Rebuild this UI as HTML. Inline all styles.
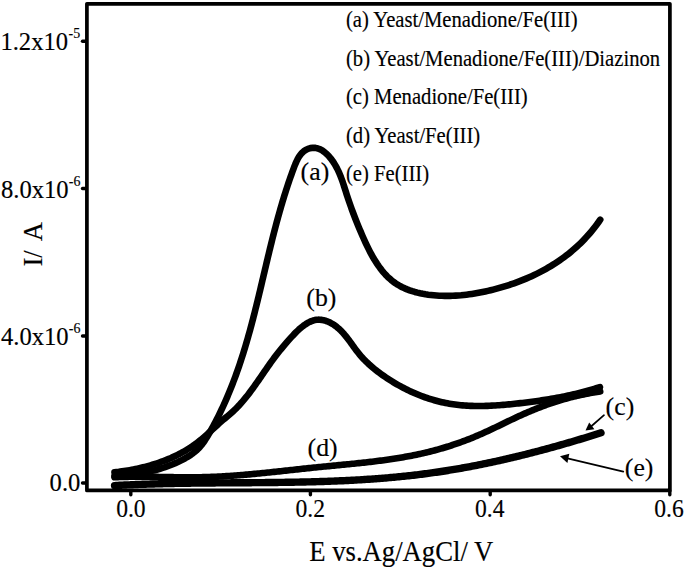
<!DOCTYPE html>
<html><head><meta charset="utf-8"><style>
html,body{margin:0;padding:0;background:#fff;width:685px;height:567px;overflow:hidden}
svg{display:block}
text{font-family:"Liberation Serif",serif;fill:#000;stroke:#000;stroke-width:0.15px}
</style></head><body>
<svg width="685" height="567" viewBox="0 0 685 567">
<rect x="0" y="0" width="685" height="567" fill="#fff"/>
<!-- frame -->
<rect x="86.9" y="3.85" width="583" height="486.6" fill="none" stroke="#000" stroke-width="3.7" stroke-linejoin="round"/>
<!-- y ticks -->
<g stroke="#000" stroke-width="3.4" stroke-linecap="round">
<line x1="82.5" y1="41.2" x2="86" y2="41.2"/>
<line x1="82.5" y1="188.5" x2="86" y2="188.5"/>
<line x1="82.5" y1="336" x2="86" y2="336"/>
<line x1="82.5" y1="483" x2="86" y2="483"/>
<!-- x ticks -->
<line x1="130.8" y1="491" x2="130.8" y2="494.8"/>
<line x1="310.4" y1="491" x2="310.4" y2="494.8"/>
<line x1="490.2" y1="491" x2="490.2" y2="494.8"/>
<line x1="669.8" y1="491" x2="669.8" y2="494.8"/>
</g>
<!-- curves -->
<g fill="none" stroke="#000" stroke-width="6.6" stroke-linecap="round" stroke-linejoin="round">
<path d="M114.49,475.98 L117.22,475.85 L119.95,475.69 L122.67,475.49 L125.38,475.26 L128.09,475.00 L130.80,474.70 L133.49,474.36 L136.18,473.99 L138.87,473.57 L141.54,473.12 L144.21,472.63 L146.86,472.09 L149.51,471.52 L152.15,470.89 L154.77,470.23 L157.39,469.51 L159.99,468.75 L162.58,467.94 L165.16,467.08 L167.72,466.17 L170.27,465.21 L172.80,464.19 L175.32,463.12 L177.83,462.00 L180.31,460.82 L182.78,459.58 L185.20,458.27 L187.58,456.89 L189.90,455.43 L192.14,453.88 L194.29,452.24 L196.34,450.50 L198.28,448.65 L200.10,446.70 L201.80,444.64 L203.41,442.51 L204.93,440.30 L206.39,438.03 L207.79,435.72 L209.16,433.38 L210.50,431.02 L211.82,428.65 L213.13,426.27 L214.41,423.87 L215.67,421.47 L216.92,419.05 L218.15,416.62 L219.35,414.18 L220.54,411.73 L221.71,409.27 L222.87,406.80 L224.00,404.32 L225.12,401.83 L226.22,399.34 L227.30,396.83 L228.36,394.32 L229.41,391.80 L230.44,389.28 L231.45,386.75 L232.45,384.21 L233.43,381.66 L234.40,379.11 L235.35,376.56 L236.28,374.00 L237.20,371.44 L238.10,368.87 L238.99,366.30 L239.86,363.72 L240.72,361.15 L241.56,358.57 L242.39,355.98 L243.21,353.40 L244.02,350.81 L244.81,348.22 L245.59,345.62 L246.36,343.03 L247.12,340.43 L247.86,337.83 L248.60,335.22 L249.33,332.62 L250.05,330.01 L250.76,327.40 L251.46,324.78 L252.15,322.17 L252.84,319.55 L253.52,316.93 L254.19,314.31 L254.85,311.69 L255.51,309.06 L256.17,306.44 L256.82,303.81 L257.46,301.18 L258.10,298.55 L258.74,295.92 L259.37,293.29 L260.00,290.65 L260.63,288.01 L261.25,285.38 L261.88,282.74 L262.50,280.10 L263.13,277.46 L263.75,274.82 L264.37,272.18 L264.99,269.54 L265.62,266.89 L266.24,264.25 L266.87,261.61 L267.50,258.96 L268.13,256.32 L268.77,253.67 L269.40,251.03 L270.05,248.38 L270.69,245.74 L271.35,243.09 L272.00,240.45 L272.67,237.80 L273.34,235.16 L274.01,232.51 L274.70,229.87 L275.39,227.22 L276.08,224.58 L276.79,221.94 L277.50,219.29 L278.23,216.65 L278.96,214.01 L279.71,211.37 L280.46,208.73 L281.23,206.09 L282.00,203.46 L282.79,200.82 L283.59,198.18 L284.40,195.55 L285.23,192.92 L286.07,190.29 L286.92,187.66 L287.79,185.03 L288.67,182.40 L289.57,179.77 L290.48,177.15 L291.41,174.53 L292.35,171.91 L293.31,169.29 L294.30,166.68 L295.32,164.11 L296.41,161.60 L297.59,159.21 L298.89,156.94 L300.32,154.85 L301.92,152.96 L303.70,151.31 L305.68,149.94 L307.91,148.86 L310.34,148.13 L312.88,147.79 L315.42,147.90 L317.90,148.46 L320.30,149.41 L322.61,150.73 L324.83,152.35 L326.95,154.23 L328.96,156.32 L330.84,158.57 L332.59,160.93 L334.21,163.36 L335.68,165.83 L337.04,168.33 L338.28,170.86 L339.43,173.42 L340.49,176.00 L341.47,178.59 L342.40,181.18 L343.28,183.79 L344.13,186.39 L344.96,188.99 L345.78,191.57 L346.60,194.14 L347.44,196.69 L348.28,199.23 L349.14,201.75 L350.01,204.26 L350.90,206.76 L351.80,209.26 L352.72,211.75 L353.65,214.23 L354.60,216.71 L355.56,219.19 L356.55,221.67 L357.55,224.16 L358.57,226.65 L359.61,229.15 L360.68,231.66 L361.76,234.18 L362.86,236.71 L363.99,239.25 L365.15,241.79 L366.33,244.33 L367.55,246.87 L368.80,249.39 L370.08,251.89 L371.41,254.37 L372.78,256.81 L374.19,259.22 L375.65,261.59 L377.15,263.91 L378.71,266.18 L380.32,268.39 L381.99,270.53 L383.72,272.60 L385.51,274.60 L387.36,276.52 L389.29,278.35 L391.28,280.08 L393.34,281.72 L395.47,283.26 L397.68,284.69 L399.97,286.01 L402.31,287.23 L404.72,288.35 L407.18,289.38 L409.69,290.32 L412.25,291.18 L414.85,291.95 L417.48,292.63 L420.15,293.25 L422.84,293.78 L425.55,294.25 L428.27,294.65 L431.01,294.99 L433.75,295.27 L436.49,295.50 L439.23,295.67 L441.96,295.78 L444.70,295.85 L447.43,295.86 L450.16,295.83 L452.89,295.75 L455.61,295.62 L458.33,295.44 L461.05,295.23 L463.76,294.96 L466.47,294.66 L469.17,294.31 L471.87,293.93 L474.56,293.51 L477.25,293.05 L479.93,292.55 L482.60,292.02 L485.27,291.46 L487.93,290.86 L490.58,290.24 L493.23,289.58 L495.87,288.90 L498.50,288.18 L501.12,287.44 L503.73,286.67 L506.34,285.87 L508.93,285.04 L511.51,284.18 L514.08,283.29 L516.63,282.36 L519.17,281.41 L521.70,280.43 L524.22,279.41 L526.72,278.36 L529.20,277.28 L531.67,276.17 L534.12,275.03 L536.55,273.85 L538.97,272.64 L541.37,271.40 L543.75,270.12 L546.11,268.81 L548.45,267.46 L550.77,266.08 L553.06,264.67 L555.34,263.22 L557.59,261.74 L559.82,260.22 L562.03,258.66 L564.21,257.07 L566.36,255.44 L568.50,253.78 L570.60,252.08 L572.68,250.34 L574.73,248.56 L576.75,246.75 L578.75,244.90 L580.71,243.01 L582.65,241.08 L584.55,239.12 L586.43,237.11 L588.27,235.07 L590.08,232.99 L591.86,230.86 L593.61,228.70 L595.32,226.50 L597.00,224.25 L598.64,221.97 L600.24,219.64"/>
<path d="M114.48,472.37 L116.38,472.14 L118.29,471.90 L120.20,471.64 L122.11,471.37 L124.02,471.09 L125.93,470.78 L127.84,470.47 L129.75,470.13 L131.66,469.78 L133.56,469.41 L135.46,469.03 L137.36,468.63 L139.26,468.21 L141.15,467.78 L143.04,467.32 L144.92,466.85 L146.80,466.36 L148.68,465.85 L150.54,465.32 L152.40,464.77 L154.26,464.20 L156.10,463.62 L157.94,463.01 L159.77,462.38 L161.59,461.73 L163.41,461.06 L165.21,460.37 L167.00,459.65 L168.79,458.92 L170.56,458.16 L172.32,457.38 L174.07,456.58 L175.80,455.75 L177.53,454.90 L179.24,454.03 L180.94,453.13 L182.62,452.21 L184.29,451.27 L185.95,450.30 L187.59,449.30 L189.21,448.28 L190.82,447.24 L192.41,446.16 L193.99,445.07 L195.54,443.94 L197.08,442.79 L198.60,441.62 L200.11,440.41 L201.59,439.19 L203.07,437.94 L204.53,436.67 L205.98,435.39 L207.41,434.10 L208.85,432.80 L210.27,431.49 L211.70,430.18 L213.12,428.86 L214.53,427.55 L215.95,426.24 L217.38,424.94 L218.80,423.65 L220.24,422.37 L221.68,421.10 L223.13,419.85 L224.59,418.62 L226.05,417.40 L227.51,416.18 L228.96,414.96 L230.40,413.73 L231.82,412.48 L233.22,411.21 L234.60,409.91 L235.95,408.59 L237.27,407.24 L238.58,405.86 L239.87,404.47 L241.14,403.05 L242.40,401.62 L243.64,400.16 L244.86,398.69 L246.07,397.19 L247.27,395.69 L248.45,394.16 L249.63,392.63 L250.79,391.08 L251.94,389.52 L253.08,387.95 L254.22,386.37 L255.35,384.79 L256.47,383.20 L257.59,381.60 L258.70,380.00 L259.81,378.39 L260.91,376.79 L262.02,375.18 L263.12,373.57 L264.22,371.97 L265.32,370.37 L266.43,368.77 L267.53,367.18 L268.64,365.59 L269.75,364.02 L270.87,362.45 L271.99,360.89 L273.12,359.34 L274.26,357.80 L275.40,356.28 L276.56,354.77 L277.72,353.27 L278.90,351.78 L280.09,350.29 L281.29,348.81 L282.51,347.33 L283.75,345.86 L285.01,344.38 L286.28,342.89 L287.58,341.40 L288.90,339.91 L290.24,338.40 L291.61,336.89 L293.00,335.39 L294.42,333.90 L295.86,332.43 L297.32,331.00 L298.80,329.60 L300.31,328.27 L301.84,326.99 L303.39,325.78 L304.96,324.65 L306.55,323.62 L308.17,322.68 L309.80,321.85 L311.45,321.14 L313.13,320.55 L314.82,320.11 L316.53,319.81 L318.26,319.67 L320.01,319.69 L321.77,319.87 L323.53,320.20 L325.30,320.67 L327.06,321.27 L328.80,322.00 L330.52,322.84 L332.21,323.78 L333.86,324.82 L335.47,325.95 L337.03,327.15 L338.54,328.43 L339.99,329.76 L341.39,331.15 L342.74,332.58 L344.05,334.06 L345.33,335.58 L346.57,337.13 L347.79,338.70 L348.99,340.30 L350.17,341.90 L351.34,343.52 L352.51,345.14 L353.67,346.75 L354.84,348.35 L356.02,349.94 L357.22,351.51 L358.43,353.05 L359.67,354.56 L360.93,356.03 L362.21,357.47 L363.52,358.89 L364.85,360.27 L366.20,361.63 L367.57,362.95 L368.96,364.26 L370.37,365.53 L371.80,366.79 L373.25,368.02 L374.72,369.22 L376.21,370.41 L377.71,371.58 L379.23,372.73 L380.77,373.86 L382.32,374.97 L383.89,376.07 L385.47,377.15 L387.07,378.21 L388.68,379.27 L390.30,380.30 L391.93,381.33 L393.58,382.33 L395.24,383.32 L396.92,384.29 L398.60,385.25 L400.30,386.19 L402.01,387.11 L403.73,388.01 L405.46,388.89 L407.20,389.76 L408.94,390.60 L410.70,391.43 L412.47,392.23 L414.25,393.02 L416.04,393.79 L417.83,394.53 L419.64,395.25 L421.45,395.96 L423.27,396.64 L425.09,397.30 L426.93,397.93 L428.77,398.54 L430.61,399.13 L432.47,399.70 L434.32,400.24 L436.19,400.76 L438.06,401.25 L439.93,401.72 L441.81,402.17 L443.69,402.58 L445.58,402.98 L447.47,403.34 L449.36,403.68 L451.26,403.99 L453.15,404.28 L455.06,404.55 L456.96,404.79 L458.87,405.00 L460.78,405.19 L462.69,405.37 L464.61,405.51 L466.52,405.64 L468.44,405.75 L470.36,405.84 L472.29,405.91 L474.21,405.96 L476.14,405.99 L478.06,406.00 L479.99,406.00 L481.92,405.98 L483.85,405.95 L485.78,405.90 L487.71,405.84 L489.65,405.76 L491.58,405.67 L493.51,405.56 L495.44,405.45 L497.38,405.32 L499.31,405.18 L501.24,405.04 L503.18,404.88 L505.11,404.71 L507.04,404.54 L508.97,404.36 L510.90,404.17 L512.83,403.97 L514.75,403.77 L516.68,403.56 L518.60,403.35 L520.53,403.13 L522.45,402.91 L524.37,402.68 L526.29,402.45 L528.20,402.21 L530.12,401.97 L532.03,401.72 L533.95,401.47 L535.86,401.21 L537.77,400.94 L539.68,400.66 L541.58,400.38 L543.49,400.09 L545.39,399.80 L547.29,399.49 L549.19,399.18 L551.09,398.86 L552.99,398.54 L554.88,398.20 L556.78,397.85 L558.67,397.50 L560.56,397.14 L562.45,396.77 L564.34,396.39 L566.23,395.99 L568.11,395.59 L570.00,395.18 L571.88,394.76 L573.76,394.33 L575.64,393.89 L577.52,393.43 L579.39,392.97 L581.27,392.49 L583.14,392.01 L585.01,391.51 L586.88,391.00 L588.75,390.47 L590.62,389.94 L592.48,389.39 L594.35,388.83 L596.21,388.25 L598.07,387.67 L599.93,387.06"/>
<path d="M114.52,477.29 L116.17,477.21 L117.83,477.13 L119.49,477.07 L121.14,477.01 L122.80,476.95 L124.46,476.91 L126.12,476.87 L127.79,476.83 L129.45,476.80 L131.11,476.78 L132.78,476.76 L134.44,476.75 L136.11,476.74 L137.77,476.73 L139.44,476.73 L141.11,476.74 L142.78,476.74 L144.45,476.75 L146.12,476.77 L147.79,476.78 L149.46,476.80 L151.13,476.82 L152.80,476.84 L154.47,476.87 L156.15,476.89 L157.82,476.92 L159.49,476.95 L161.16,476.98 L162.84,477.01 L164.51,477.03 L166.18,477.06 L167.86,477.09 L169.53,477.12 L171.20,477.15 L172.88,477.17 L174.55,477.20 L176.22,477.22 L177.90,477.24 L179.57,477.26 L181.24,477.28 L182.92,477.30 L184.59,477.31 L186.26,477.32 L187.93,477.32 L189.60,477.32 L191.27,477.32 L192.94,477.31 L194.61,477.30 L196.28,477.29 L197.95,477.27 L199.62,477.24 L201.28,477.21 L202.95,477.17 L204.62,477.13 L206.28,477.09 L207.95,477.03 L209.61,476.98 L211.27,476.91 L212.94,476.85 L214.60,476.78 L216.26,476.70 L217.92,476.62 L219.58,476.53 L221.24,476.44 L222.90,476.35 L224.56,476.25 L226.22,476.15 L227.88,476.04 L229.54,475.93 L231.20,475.82 L232.85,475.70 L234.51,475.58 L236.17,475.46 L237.83,475.33 L239.48,475.20 L241.14,475.07 L242.79,474.93 L244.45,474.79 L246.10,474.65 L247.76,474.50 L249.41,474.35 L251.07,474.20 L252.72,474.05 L254.38,473.89 L256.03,473.74 L257.68,473.58 L259.34,473.41 L260.99,473.25 L262.65,473.08 L264.30,472.92 L265.95,472.75 L267.61,472.58 L269.26,472.41 L270.91,472.23 L272.57,472.06 L274.22,471.88 L275.88,471.71 L277.53,471.53 L279.18,471.35 L280.84,471.17 L282.49,470.99 L284.15,470.81 L285.80,470.63 L287.46,470.45 L289.11,470.27 L290.77,470.09 L292.42,469.91 L294.08,469.72 L295.73,469.54 L297.39,469.36 L299.05,469.18 L300.70,469.00 L302.36,468.82 L304.02,468.64 L305.67,468.47 L307.33,468.29 L308.99,468.11 L310.65,467.94 L312.31,467.76 L313.97,467.59 L315.63,467.42 L317.29,467.25 L318.95,467.08 L320.61,466.91 L322.27,466.75 L323.94,466.58 L325.60,466.42 L327.26,466.26 L328.93,466.10 L330.59,465.94 L332.25,465.78 L333.92,465.61 L335.58,465.45 L337.25,465.29 L338.91,465.13 L340.57,464.97 L342.24,464.81 L343.90,464.65 L345.57,464.49 L347.23,464.32 L348.90,464.16 L350.56,463.99 L352.22,463.82 L353.89,463.66 L355.55,463.49 L357.21,463.31 L358.87,463.14 L360.54,462.96 L362.20,462.78 L363.86,462.60 L365.52,462.42 L367.18,462.23 L368.84,462.04 L370.50,461.85 L372.15,461.66 L373.81,461.46 L375.47,461.26 L377.12,461.05 L378.78,460.84 L380.43,460.63 L382.09,460.41 L383.74,460.19 L385.39,459.96 L387.04,459.73 L388.69,459.50 L390.34,459.26 L391.99,459.02 L393.63,458.77 L395.28,458.51 L396.92,458.25 L398.57,457.99 L400.21,457.72 L401.85,457.44 L403.49,457.16 L405.12,456.87 L406.76,456.57 L408.39,456.27 L410.03,455.96 L411.66,455.65 L413.29,455.33 L414.92,455.00 L416.54,454.66 L418.17,454.32 L419.79,453.97 L421.41,453.61 L423.03,453.24 L424.65,452.87 L426.27,452.49 L427.88,452.10 L429.49,451.70 L431.11,451.29 L432.71,450.88 L434.32,450.46 L435.92,450.03 L437.53,449.59 L439.13,449.14 L440.73,448.68 L442.32,448.22 L443.91,447.75 L445.51,447.26 L447.09,446.78 L448.68,446.28 L450.26,445.77 L451.85,445.26 L453.42,444.74 L455.00,444.21 L456.57,443.67 L458.15,443.12 L459.71,442.56 L461.28,442.00 L462.84,441.43 L464.40,440.85 L465.96,440.26 L467.51,439.66 L469.07,439.06 L470.61,438.45 L472.16,437.82 L473.70,437.19 L475.24,436.56 L476.78,435.91 L478.31,435.25 L479.84,434.59 L481.36,433.92 L482.89,433.24 L484.41,432.56 L485.93,431.86 L487.44,431.17 L488.96,430.46 L490.47,429.76 L491.98,429.04 L493.49,428.33 L494.99,427.61 L496.50,426.89 L498.00,426.16 L499.51,425.44 L501.01,424.71 L502.51,423.98 L504.02,423.26 L505.52,422.53 L507.02,421.81 L508.53,421.08 L510.03,420.36 L511.54,419.64 L513.05,418.93 L514.55,418.22 L516.06,417.51 L517.58,416.81 L519.09,416.12 L520.60,415.43 L522.12,414.74 L523.64,414.06 L525.16,413.39 L526.69,412.73 L528.21,412.07 L529.74,411.42 L531.28,410.77 L532.81,410.13 L534.35,409.50 L535.89,408.88 L537.43,408.27 L538.97,407.66 L540.52,407.06 L542.07,406.47 L543.63,405.89 L545.18,405.31 L546.74,404.75 L548.31,404.19 L549.87,403.64 L551.44,403.10 L553.02,402.57 L554.60,402.06 L556.18,401.55 L557.76,401.05 L559.35,400.56 L560.94,400.08 L562.54,399.61 L564.14,399.15 L565.74,398.70 L567.35,398.26 L568.96,397.83 L570.57,397.41 L572.19,397.00 L573.81,396.60 L575.43,396.21 L577.06,395.83 L578.69,395.46 L580.33,395.10 L581.97,394.75 L583.61,394.41 L585.25,394.08 L586.90,393.75 L588.55,393.44 L590.21,393.13 L591.87,392.84 L593.53,392.55 L595.19,392.27 L596.86,392.00 L598.53,391.74 L600.20,391.49"/>
<path d="M114.56,485.57 L116.20,485.48 L117.84,485.39 L119.48,485.30 L121.11,485.22 L122.75,485.14 L124.39,485.06 L126.03,484.98 L127.67,484.90 L129.31,484.83 L130.95,484.75 L132.59,484.68 L134.23,484.62 L135.87,484.55 L137.51,484.48 L139.15,484.42 L140.79,484.36 L142.43,484.30 L144.07,484.24 L145.72,484.18 L147.36,484.13 L149.00,484.08 L150.64,484.03 L152.28,483.98 L153.93,483.93 L155.57,483.88 L157.21,483.83 L158.86,483.79 L160.50,483.75 L162.14,483.71 L163.79,483.67 L165.43,483.63 L167.07,483.59 L168.72,483.55 L170.36,483.52 L172.01,483.49 L173.65,483.45 L175.30,483.42 L176.94,483.39 L178.58,483.36 L180.23,483.34 L181.88,483.31 L183.52,483.28 L185.17,483.26 L186.81,483.23 L188.46,483.21 L190.10,483.19 L191.75,483.17 L193.39,483.14 L195.04,483.12 L196.69,483.10 L198.33,483.09 L199.98,483.07 L201.63,483.05 L203.27,483.03 L204.92,483.02 L206.57,483.00 L208.21,482.99 L209.86,482.97 L211.51,482.96 L213.15,482.95 L214.80,482.93 L216.45,482.92 L218.10,482.91 L219.74,482.90 L221.39,482.88 L223.04,482.87 L224.68,482.86 L226.33,482.85 L227.98,482.84 L229.63,482.83 L231.27,482.82 L232.92,482.81 L234.57,482.80 L236.22,482.78 L237.87,482.77 L239.51,482.76 L241.16,482.75 L242.81,482.74 L244.46,482.73 L246.10,482.72 L247.75,482.71 L249.40,482.70 L251.05,482.68 L252.69,482.67 L254.34,482.66 L255.99,482.65 L257.64,482.63 L259.28,482.62 L260.93,482.61 L262.58,482.59 L264.23,482.58 L265.87,482.56 L267.52,482.55 L269.17,482.53 L270.82,482.51 L272.46,482.49 L274.11,482.47 L275.76,482.46 L277.41,482.44 L279.05,482.41 L280.70,482.39 L282.35,482.37 L283.99,482.35 L285.64,482.32 L287.29,482.30 L288.93,482.27 L290.58,482.24 L292.23,482.22 L293.87,482.19 L295.52,482.16 L297.16,482.13 L298.81,482.09 L300.46,482.06 L302.10,482.02 L303.75,481.99 L305.39,481.95 L307.04,481.91 L308.68,481.87 L310.33,481.83 L311.98,481.79 L313.62,481.74 L315.26,481.70 L316.91,481.65 L318.55,481.60 L320.20,481.55 L321.84,481.50 L323.49,481.45 L325.13,481.39 L326.77,481.34 L328.42,481.28 L330.06,481.22 L331.71,481.16 L333.35,481.10 L334.99,481.03 L336.63,480.96 L338.28,480.89 L339.92,480.82 L341.56,480.75 L343.20,480.68 L344.85,480.60 L346.49,480.52 L348.13,480.44 L349.77,480.36 L351.41,480.27 L353.05,480.19 L354.69,480.10 L356.33,480.01 L357.97,479.91 L359.61,479.82 L361.25,479.72 L362.89,479.62 L364.53,479.52 L366.17,479.41 L367.81,479.30 L369.45,479.19 L371.09,479.08 L372.72,478.97 L374.36,478.85 L376.00,478.73 L377.64,478.61 L379.27,478.48 L380.91,478.35 L382.55,478.22 L384.18,478.09 L385.82,477.96 L387.46,477.82 L389.09,477.68 L390.73,477.53 L392.36,477.38 L394.00,477.23 L395.63,477.08 L397.26,476.93 L398.90,476.77 L400.53,476.60 L402.16,476.44 L403.80,476.27 L405.43,476.10 L407.06,475.93 L408.69,475.75 L410.32,475.57 L411.96,475.38 L413.59,475.20 L415.22,475.01 L416.85,474.81 L418.48,474.62 L420.11,474.42 L421.74,474.21 L423.36,474.01 L424.99,473.79 L426.62,473.58 L428.25,473.36 L429.88,473.14 L431.50,472.92 L433.13,472.69 L434.76,472.46 L436.38,472.22 L438.01,471.98 L439.63,471.74 L441.26,471.50 L442.88,471.25 L444.51,470.99 L446.13,470.74 L447.75,470.48 L449.38,470.22 L451.00,469.95 L452.62,469.68 L454.24,469.41 L455.86,469.14 L457.48,468.86 L459.10,468.58 L460.72,468.29 L462.34,468.00 L463.96,467.71 L465.58,467.42 L467.20,467.12 L468.81,466.82 L470.43,466.51 L472.05,466.21 L473.66,465.90 L475.28,465.59 L476.89,465.27 L478.51,464.95 L480.12,464.63 L481.74,464.30 L483.35,463.98 L484.96,463.65 L486.57,463.31 L488.19,462.98 L489.80,462.64 L491.41,462.29 L493.02,461.95 L494.63,461.60 L496.23,461.25 L497.84,460.90 L499.45,460.54 L501.06,460.18 L502.66,459.82 L504.27,459.46 L505.88,459.09 L507.48,458.72 L509.08,458.35 L510.69,457.97 L512.29,457.59 L513.89,457.21 L515.50,456.83 L517.10,456.44 L518.70,456.06 L520.30,455.67 L521.90,455.27 L523.50,454.88 L525.09,454.48 L526.69,454.08 L528.29,453.68 L529.89,453.27 L531.48,452.86 L533.08,452.45 L534.67,452.04 L536.26,451.63 L537.86,451.21 L539.45,450.79 L541.04,450.37 L542.63,449.94 L544.22,449.52 L545.81,449.09 L547.40,448.66 L548.99,448.22 L550.58,447.79 L552.17,447.35 L553.75,446.91 L555.34,446.47 L556.92,446.03 L558.51,445.58 L560.09,445.13 L561.67,444.68 L563.26,444.23 L564.84,443.78 L566.42,443.32 L568.00,442.86 L569.58,442.40 L571.15,441.94 L572.73,441.48 L574.31,441.01 L575.88,440.54 L577.46,440.07 L579.03,439.60 L580.61,439.13 L582.18,438.65 L583.75,438.18 L585.32,437.70 L586.90,437.22 L588.47,436.74 L590.03,436.25 L591.60,435.77 L593.17,435.28 L594.74,434.79 L596.30,434.30 L597.87,433.81 L599.43,433.31 L600.99,432.82" stroke-width="7.4"/>
</g>
<!-- arrows -->
<g stroke="#000" stroke-width="1.7" fill="none" stroke-linecap="round">
<line x1="604" y1="415.2" x2="591" y2="426.5"/>
<line x1="623.3" y1="471.6" x2="567.5" y2="458.3"/>
</g>
<g fill="#000">
<polygon points="585.5,430.6 589.2,422.4 594.4,429.2"/>
<polygon points="560,456.3 569.3,453.8 567.4,463"/>
</g>
<!-- x tick labels -->
<g font-size="23.6" text-anchor="middle">
<text transform="translate(130.9,517) scale(1,1.07)">0.0</text>
<text transform="translate(310.2,517) scale(1,1.07)">0.2</text>
<text transform="translate(489.7,517) scale(1,1.07)">0.4</text>
<text transform="translate(669,517) scale(1,1.07)">0.6</text>
</g>
<!-- y tick labels -->
<g font-size="24.6">
<text transform="translate(0.4,49.5) scale(1,1.04)">1.2x10</text>
<text transform="translate(68.6,37.6) scale(1,1.04)" font-size="14">-5</text>
<text transform="translate(1.0,197.5) scale(1,1.04)">8.0x10</text>
<text transform="translate(68.8,185.6) scale(1,1.04)" font-size="14">-6</text>
<text transform="translate(1.0,345) scale(1,1.04)">4.0x10</text>
<text transform="translate(68.8,333.1) scale(1,1.04)" font-size="14">-6</text>
<text transform="translate(49.6,490.5) scale(1,1.04)">0.0</text>
</g>
<!-- axis titles -->
<text transform="translate(309.2,560.6) scale(1,1.08)" font-size="26.7">E vs.Ag/AgCl/ V</text>
<text transform="translate(42,266.5) rotate(-90) scale(1,1.04)" font-size="26.5">I/<tspan dx="4"> A</tspan></text>
<!-- legend -->
<g font-size="20.66">
<text transform="translate(346,27.2) scale(1,1.07)">(a) Yeast/Menadione/Fe(III)</text>
<text transform="translate(346,65.7) scale(1,1.07)">(b) Yeast/Menadione/Fe(III)/Diazinon</text>
<text transform="translate(346,104.2) scale(1,1.07)">(c) Menadione/Fe(III)</text>
<text transform="translate(346,142.7) scale(1,1.07)">(d) Yeast/Fe(III)</text>
<text transform="translate(346,181.2) scale(1,1.07)">(e) Fe(III)</text>
</g>
<!-- curve labels -->
<g font-size="25.8">
<text x="300.6" y="179.6">(a)</text>
<text x="306.3" y="305.6">(b)</text>
<text x="605.6" y="414.6">(c)</text>
<text x="307.6" y="455.6">(d)</text>
<text x="624.8" y="475.8">(e)</text>
</g>
</svg>
</body></html>
